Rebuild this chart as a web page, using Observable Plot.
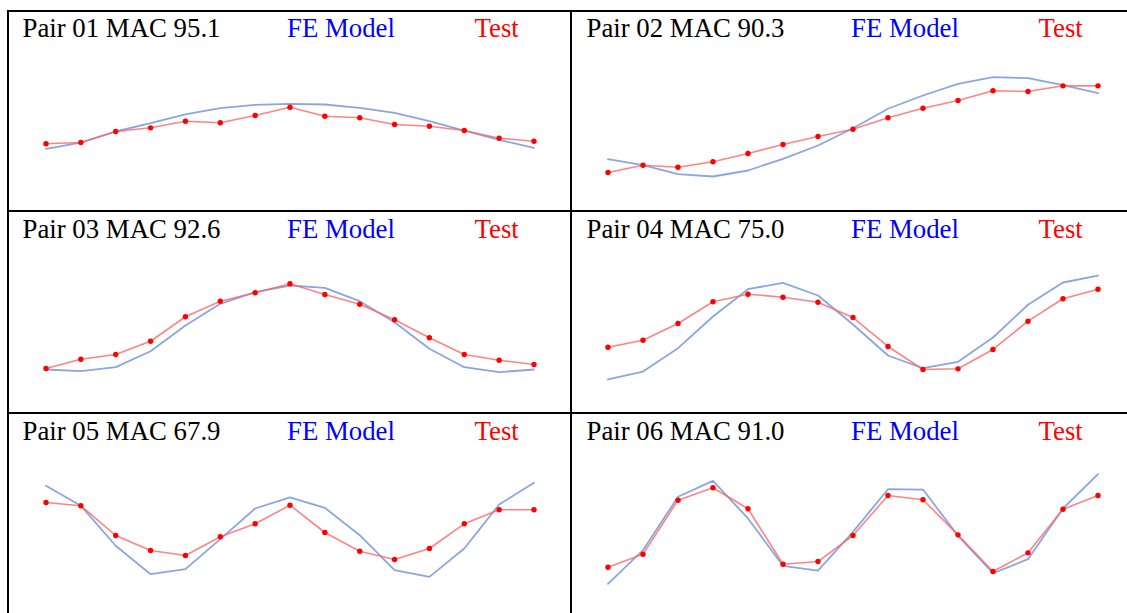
<!DOCTYPE html>
<html>
<head>
<meta charset="utf-8">
<script src="https://cdn.jsdelivr.net/npm/d3@7"></script>
<script src="https://cdn.jsdelivr.net/npm/@observablehq/plot@0.6"></script>
<style>
  html, body { margin: 0; padding: 0; background: #fff; }
  #sheet { position: relative; width: 1127px; height: 613px; overflow: hidden; }
  .cell { position: absolute; }
  .cell svg { position: absolute; left: 0; top: 0; }
  .lbl { position: absolute; font-family: 'Liberation Serif', 'Times New Roman', serif; font-size: 26.8px; line-height: 1; white-space: nowrap; }
  .rule { position: absolute; background: #000; z-index: 5; }
</style>
</head>
<body>
<div id="sheet"></div>
<script>
// Measurement nodes along the structure
const nodes = [1, 2, 3, 4, 5, 6, 7, 8, 9, 10, 11, 12, 13, 14, 15];

// Mode pair labels and MAC values (%)
const pairNames = ["Pair 01", "Pair 02", "Pair 03", "Pair 04", "Pair 05", "Pair 06"];
const macValues = ["95.1", "90.3", "92.6", "75.0", "67.9", "91.0"];

// FE model mode shapes (normalised displacement, %)
const fe01 = [-31.1, -22.7, -8.0, 3.1, 14.7, 23.1, 27.6, 28.9, 28.0, 23.6, 16.9, 5.7, -6.7, -19.1, -29.7];
const fe02 = [-44.9, -52.9, -64.9, -68.0, -60.0, -44.4, -26.7, -3.6, 22.3, 40.0, 55.6, 64.4, 63.1, 53.7, 43.1];
const fe03 = [-60.0, -62.3, -56.9, -35.6, -1.3, 27.6, 43.1, 52.0, 48.9, 31.1, 3.1, -32.4, -56.9, -63.6, -60.0];
const fe04 = [-73.3, -62.7, -31.6, 10.7, 47.1, 55.6, 38.7, 0.0, -41.3, -58.3, -49.7, -17.3, 26.3, 56.0, 65.3];
const fe05 = [54.3, 27.6, -25.7, -63.6, -56.9, -16.9, 24.0, 38.7, 24.9, -11.6, -58.3, -67.1, -29.3, 29.3, 58.3];
const fe06 = [-76.4, -31.6, 39.6, 60.9, 10.7, -52.4, -58.7, -7.1, 49.7, 49.3, -12.4, -62.3, -43.6, 24.0, 69.7];

// Test mode shapes (normalised displacement, %)
const test01 = [-24.4, -22.7, -8.0, -3.1, 5.7, 3.6, 13.3, 24.4, 12.4, 10.3, 1.3, -0.9, -6.7, -16.9, -20.9];
const test02 = [-62.7, -52.9, -55.6, -48.4, -37.3, -25.3, -14.7, -4.9, 10.3, 23.1, 33.3, 46.3, 45.3, 52.9, 52.9];
const test03 = [-58.7, -46.3, -40.0, -22.3, 10.3, 31.1, 42.3, 54.3, 40.0, 27.1, 6.3, -17.7, -40.0, -47.6, -53.3];
const test04 = [-30.3, -20.9, 1.3, 30.3, 40.4, 36.4, 29.7, 9.3, -29.3, -60.0, -59.1, -33.3, 4.4, 34.3, 47.1];
const test05 = [32.0, 27.6, -12.0, -32.0, -38.7, -13.7, 3.6, 28.4, -8.0, -32.9, -44.0, -29.3, 3.6, 22.3, 22.3];
const test06 = [-54.3, -36.9, 35.1, 51.6, 23.6, -50.3, -46.7, -12.0, 41.3, 35.6, -11.1, -60.0, -35.1, 23.1, 41.3];

const feSeries = [fe01, fe02, fe03, fe04, fe05, fe06];
const testSeries = [test01, test02, test03, test04, test05, test06];

// Layout of the 2 x 3 table of panels
const colLeft = [7, 571];
const colWidth = [564, 556];
const colMargins = [[38.5, 37.5], [36.5, 29.5]];
const rowTop = [10, 209, 411];
const rowHeight = [200, 202, 202];

const sheet = document.getElementById("sheet");

pairNames.forEach((name, i) => {
  const col = i % 2, row = Math.floor(i / 2);
  const cell = document.createElement("div");
  cell.className = "cell";
  cell.style.left = colLeft[col] + "px";
  cell.style.top = rowTop[row] + "px";
  cell.style.width = colWidth[col] + "px";
  cell.style.height = rowHeight[row] + "px";

  const rows = nodes.map((n, k) => ({node: n, fe: feSeries[i][k], test: testSeries[i][k]}));

  const chart = Plot.plot({
    width: colWidth[col],
    height: rowHeight[row],
    marginLeft: colMargins[col][0],
    marginRight: colMargins[col][1],
    marginTop: 40,
    marginBottom: rowHeight[row] - 190,
    x: {domain: [1, 15], axis: null},
    y: {domain: [-100, 100], axis: null},
    style: {background: "transparent", overflow: "visible"},
    marks: [
      Plot.line(rows, {x: "node", y: "fe", stroke: "#7696dc", strokeWidth: 1.8, strokeOpacity: 0.85}),
      Plot.line(rows, {x: "node", y: "test", stroke: "#ff6464", strokeWidth: 1.6, strokeOpacity: 0.8}),
      Plot.dot(rows, {x: "node", y: "test", r: 2.7, fill: "#ff0000", stroke: "none"})
    ]
  });
  cell.appendChild(chart);

  const labels = [
    {text: `${name} MAC ${macValues[i]}`, left: 15.5, color: "#000000"},
    {text: "FE Model", left: 280, color: "#0000ff"},
    {text: "Test", left: 467.5, color: "#ff0000"}
  ];
  labels.forEach(l => {
    const s = document.createElement("span");
    s.className = "lbl";
    s.textContent = l.text;
    s.style.left = l.left + "px";
    s.style.top = (row === 0 ? 5 : 7) + "px";
    s.style.color = l.color;
    cell.appendChild(s);
  });
  sheet.appendChild(cell);
});

// Table rules
const rules = [
  {left: 7, top: 10, width: 1120, height: 2},
  {left: 7, top: 210, width: 1120, height: 2},
  {left: 7, top: 412, width: 1120, height: 2},
  {left: 7, top: 10, width: 2, height: 603},
  {left: 570, top: 10, width: 2, height: 603}
];
rules.forEach(r => {
  const d = document.createElement("div");
  d.className = "rule";
  Object.entries(r).forEach(([k, v]) => d.style[k] = v + "px");
  sheet.appendChild(d);
});
</script>
</body>
</html>
